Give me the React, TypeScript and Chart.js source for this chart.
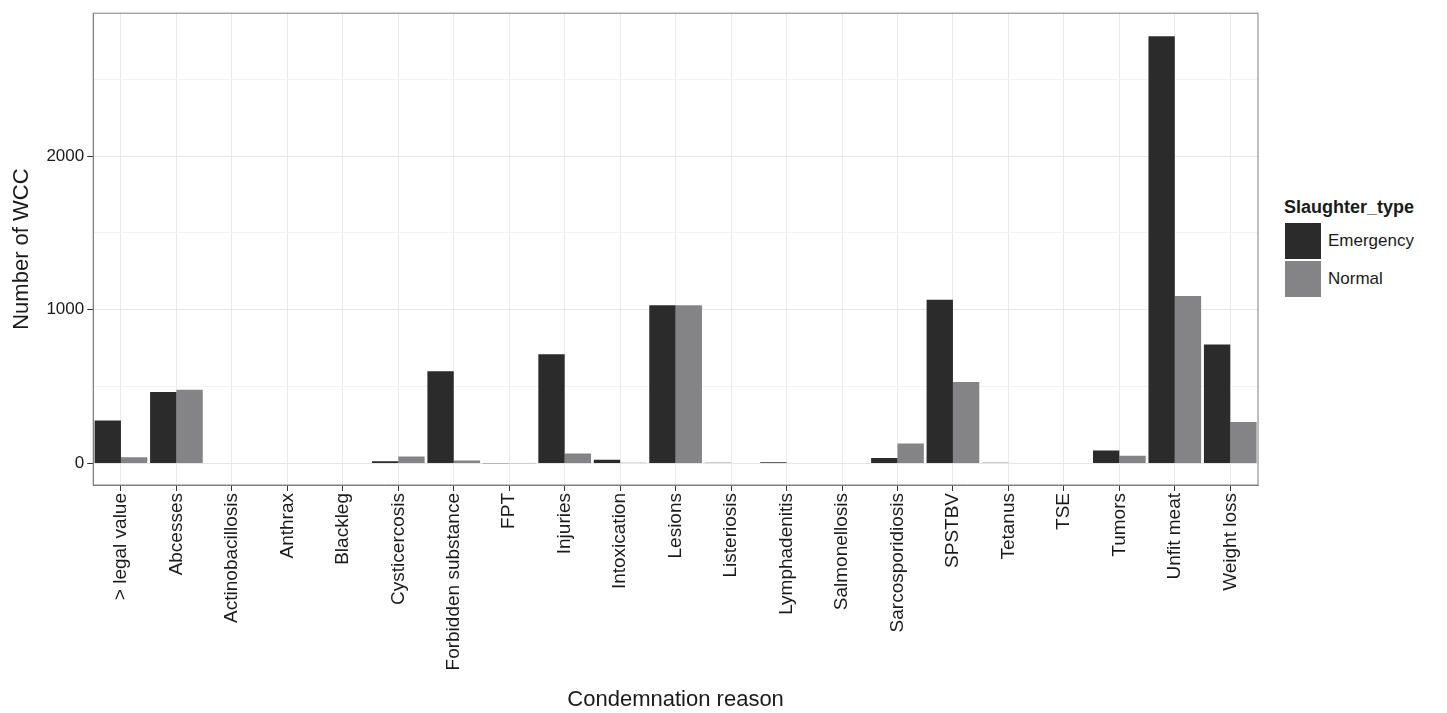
import { useEffect, useRef } from "react"
import { Chart, registerables } from "chart.js"

Chart.register(...registerables)

const categories = [
  "> legal value", "Abcesses", "Actinobacillosis", "Anthrax", "Blackleg", "Cysticercosis",
  "Forbidden substance", "FPT", "Injuries", "Intoxication", "Lesions", "Listeriosis",
  "Lymphadenitis", "Salmonellosis", "Sarcosporidiosis", "SPSTBV", "Tetanus", "TSE",
  "Tumors", "Unfit meat", "Weight loss",
]
const emergency = [280, 465, 0, 0, 0, 15, 600, 2, 710, 25, 1030, 5, 8, 0, 35, 1065, 5, 0, 85, 2780, 775]
const normal = [40, 480, 3, 0, 0, 45, 20, 2, 65, 5, 1030, 0, 0, 3, 130, 530, 0, 0, 50, 1090, 270]
const yTicks = [0, 500, 1000, 1500, 2000, 2500]

const font = "Arial, 'Liberation Sans', sans-serif"

export default function App() {
  const ref = useRef<HTMLCanvasElement>(null)

  useEffect(() => {
    if (!ref.current) return
    const chart = new Chart(ref.current, {
      type: "bar",
      data: {
        labels: categories,
        datasets: [
          { label: "Emergency", data: emergency, backgroundColor: "#2b2b2b", categoryPercentage: 0.95, barPercentage: 1 },
          { label: "Normal", data: normal, backgroundColor: "#848486", categoryPercentage: 0.95, barPercentage: 1 },
        ],
      },
      options: {
        animation: false,
        responsive: false,
        layout: { padding: { top: 4, right: 4, left: 5, bottom: 0 } },
        plugins: { legend: { display: false }, tooltip: { enabled: false } },
        scales: {
          x: {
            offset: true,
            afterFit: (s: any) => {
              s.height = 228
            },
            grid: { color: "#ebebeb", offset: false, tickLength: 6, tickColor: "#333" },
            border: { color: "#7f7f7f" },
            ticks: { minRotation: 90, maxRotation: 90, color: "#1a1a1a", font: { family: font, size: 19 }, padding: 2 },
            title: { display: true, text: "Condemnation reason", color: "#1a1a1a", font: { family: font, size: 22 }, padding: { top: 4, bottom: 0 } },
          },
          y: {
            min: -140,
            max: 2930,
            afterBuildTicks: (axis: any) => {
              axis.ticks = yTicks.map((v) => ({ value: v }))
            },
            grid: {
              color: (c: any) => (c.tick && c.tick.value % 1000 === 0 ? "#e6e6e6" : "#f3f3f3"),
              tickLength: 6,
              tickColor: (c: any) => (c.tick && c.tick.value % 1000 === 0 ? "#333" : "rgba(0,0,0,0)"),
            },
            border: { color: "#7f7f7f" },
            ticks: {
              color: "#1a1a1a",
              font: { family: font, size: 17 },
              callback: (v: any) => (Number(v) % 1000 === 0 ? String(v) : ""),
            },
            title: { display: true, text: "Number of WCC", color: "#1a1a1a", font: { family: font, size: 22 }, padding: { bottom: 8 } },
          },
        },
      },
      plugins: [
        {
          id: "frame",
          afterDraw: (c: any) => {
            const { left, right, top, bottom } = c.chartArea
            const ctx = c.ctx
            ctx.save()
            ctx.strokeStyle = "#7f7f7f"
            ctx.lineWidth = 1
            ctx.strokeRect(left, top, right - left, bottom - top)
            ctx.restore()
          },
        },
      ],
    })
    return () => chart.destroy()
  }, [])

  const sw = (color: string) => ({ width: 36, height: 36, background: color, border: "1px solid #fff", display: "inline-block" })

  return (
    <div style={{ position: "absolute", left: 0, top: 0, width: 1447, height: 713, background: "#fff", fontFamily: font }}>
      <canvas ref={ref} width={1262} height={713} style={{ position: "absolute", left: 0, top: 0 }} />
      <div style={{ position: "absolute", left: 1284, top: 197, color: "#1a1a1a" }}>
        <div style={{ fontWeight: "bold", fontSize: 18, marginBottom: 4 }}>Slaughter_type</div>
        <div style={{ display: "flex", alignItems: "center" }}>
          <span style={sw("#2b2b2b")} />
          <span style={{ fontSize: 17, marginLeft: 6 }}>Emergency</span>
        </div>
        <div style={{ display: "flex", alignItems: "center" }}>
          <span style={sw("#848486")} />
          <span style={{ fontSize: 17, marginLeft: 6 }}>Normal</span>
        </div>
      </div>
    </div>
  )
}
